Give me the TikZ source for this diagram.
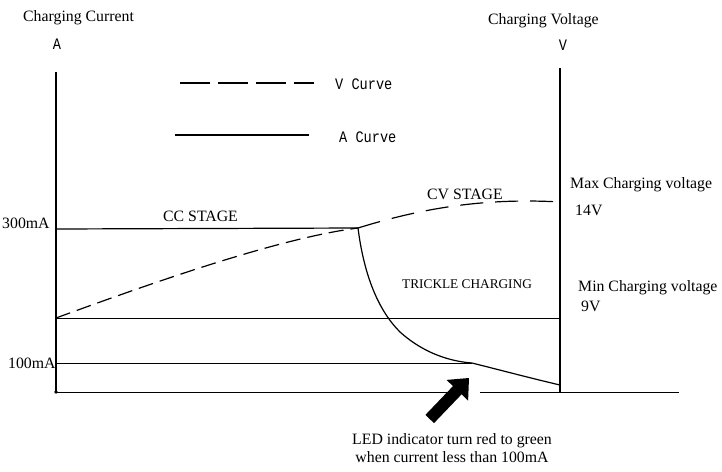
\documentclass[tikz,border=0pt]{standalone}
\usepackage{fontspec}
\setmainfont{Liberation Serif}
\newfontfamily\simfont[FakeStretch=0.85]{Liberation Mono}
\begin{document}
\begin{tikzpicture}[x=1pt,y=-1pt,
  lbl/.style={anchor=base west,inner sep=0pt,font=\fontsize{15.8}{18}\selectfont},
  smalllbl/.style={anchor=base west,inner sep=0pt,font=\fontsize{13.3}{16}\selectfont},
  simlbl/.style={anchor=base,inner sep=0pt,font=\simfont\fontsize{16}{18}\selectfont},
  axisline/.style={line width=1.3pt},
  thinline/.style={line width=1pt},
  curveline/.style={line width=1.2pt},
  vdash/.style={line width=1.2pt,dash pattern=on 15pt off 7pt},
  vdashlong/.style={line width=1.2pt,dash pattern=on 23pt off 12pt},
  legdash/.style={line width=1.4pt,dash pattern=on 30pt off 8pt},
  fatarrow/.style={fill=black,draw=none}]
\useasboundingbox (0,0) rectangle (722,471);
% coordinates
\coordinate (ltop) at (56,72);
\coordinate (origin) at (56,392);
\coordinate (rtop) at (560,68);
\coordinate (rbot) at (560,392);
\coordinate (gapl) at (447,392);
\coordinate (gapr) at (480,392);
\coordinate (bend) at (679,392);
\coordinate (c300) at (56,229);
\coordinate (knee) at (358,228);
\coordinate (v9l) at (56,318);
\coordinate (v9r) at (560,318);
\coordinate (c100) at (56,363);
\coordinate (k100) at (472,363);
\coordinate (mid) at (400,332);
\coordinate (vend) at (560,202);
\coordinate (aend) at (560,385);
\coordinate (legd1) at (180,83);
\coordinate (legd2) at (314,83);
\coordinate (legs1) at (175,135);
\coordinate (legs2) at (309,135);
% axes
\draw[axisline] (ltop) -- (origin);
\draw[axisline] (rtop) -- (rbot);
\draw[thinline] (origin) -- (gapl);
\draw[thinline] (gapr) -- (bend);
\fill (origin) circle (1.8);
% horizontal levels
\draw[curveline] (c300) -- (knee);
\draw[thinline] (v9l) -- (v9r);
\draw[thinline] (c100) -- (k100);
% V curve
\draw[vdash] (v9l) .. controls (160,280) and (280,238) .. (knee);
\draw[vdashlong] (knee) .. controls (410,212) and (475,197) .. (vend);
% A curve
\draw[curveline] (knee) .. controls (364,275) and (378,310) .. (mid)
  .. controls (420,350) and (445,361) .. (k100)
  .. controls (500,370) and (530,378) .. (aend);
% legend
\draw[legdash] (legd1) -- (legd2);
\draw[curveline] (legs1) -- (legs2);
% arrow
\fill[fatarrow] (469,378) -- (446.5,379.9) -- (453,386.1) -- (425.4,414.9)
  -- (434,423.1) -- (461.6,394.3) -- (468.1,400.6) -- cycle;
% texts
\node[lbl] (tcur) at (23,21) {Charging Current};
\node[simlbl] (ta) at (57,49) {A};
\node[lbl] (tvolt) at (488,24) {Charging Voltage};
\node[simlbl] (tv) at (563,50) {V};
\node[simlbl,anchor=base west] (tvc) at (335,89) {V Curve};
\node[simlbl,anchor=base west] (tac) at (339,142) {A Curve};
\node[lbl] (t300) at (2,228) {300mA};
\node[lbl] (tcc) at (163,221) {CC STAGE};
\node[lbl] (t100) at (8,368) {100mA};
\node[lbl] (tcv) at (427,199) {CV STAGE};
\node[smalllbl] (ttr) at (402,288) {TRICKLE CHARGING};
\node[lbl] (tmax) at (570,188) {Max Charging voltage};
\node[lbl] (t14) at (575,215) {14V};
\node[lbl] (tmin) at (578,291) {Min Charging voltage};
\node[lbl] (t9) at (581,311) {9V};
\node[lbl,anchor=base] (tled1) at (452,444) {LED indicator turn red to green};
\node[lbl,anchor=base] (tled2) at (452,462) {when current less than 100mA};
\end{tikzpicture}
\end{document}
